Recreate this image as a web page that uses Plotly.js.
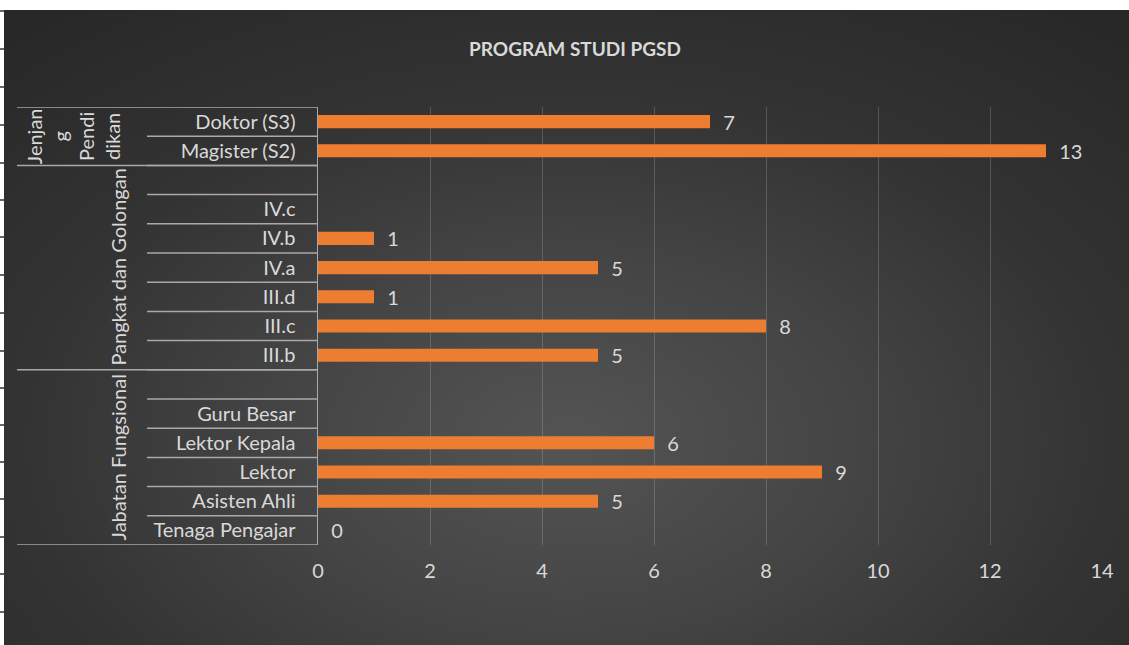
<!DOCTYPE html>
<html>
<head>
<meta charset="utf-8">
<script src="https://cdn.plot.ly/plotly-3.0.1.min.js"></script>
<style>
  html, body { margin:0; padding:0; background:#ffffff; }
  #bg { position:absolute; left:4px; top:10px; width:1125px; height:635px;
        background: radial-gradient(ellipse 75% 85% at 50% 68%, #545454 0%, #444444 35%, #333333 65%, #282828 100%); }
  #chart { position:absolute; left:0; top:0; width:1129px; height:645px; }
</style>
</head>
<body>
<div id="bg"></div>
<div id="chart"></div>
<script>
// ---- data (bottom to top) ----
const categories = ["Tenaga Pengajar", "Asisten Ahli", "Lektor", "Lektor Kepala", "Guru Besar", " ",
                    "III.b", "III.c", "III.d", "IV.a", "IV.b", "IV.c", "  ",
                    "Magister (S2)", "Doktor (S3)"];
const values = [0, 5, 9, 6, null, null,
                5, 8, 1, 5, 1, null, null,
                13, 7];
const groupNames = ["Jabatan Fungsional", "Pangkat dan Golongan", "Jenjan<br>g<br>Pendi<br>dikan"];
const groupStart = [0, 6, 13];
const groupEnd = [5, 12, 14];
const xTicks = [0, 2, 4, 6, 8, 10, 12, 14];
const chartTitle = "PROGRAM STUDI PGSD";

// ---- layout helpers (pixel geometry) ----
const L = 318, R = 1102, T = 107, B = 545, W = 1129, H = 645;
const px = v => (v - L) / (R - L);
const py = v => (B - v) / (B - T);
const lineCol = "#a9a9a9";
const txtCol = "#d9d9d9";
const fontFam = "Lato, 'Noto Sans', sans-serif";
const fs = 20;

const shapes = [];
// inner dividers at every category boundary
for (let i = 0; i < categories.length - 1; i++) {
  shapes.push({type:"line", xref:"paper", yref:"y", x0:px(147), x1:0, y0:i+0.5, y1:i+0.5,
               line:{color:lineCol, width:1.5}});
}
// full group boundaries
const fullB = [-0.5];
groupEnd.forEach(e => fullB.push(e + 0.5));
fullB.forEach(b => shapes.push({type:"line", xref:"paper", yref:"y", x0:px(17), x1:0, y0:b, y1:b,
               line:{color:lineCol, width:1.5}}));
// spreadsheet row-border marks on the left edge
const leftMarks = [11,49,87,125,163,200,237,275,313,351,388,425,462,499,537,574,612];
leftMarks.forEach(m => shapes.push({type:"line", xref:"paper", yref:"paper", x0:px(0), x1:px(4),
               y0:py(m), y1:py(m), line:{color:"#000000", width:1.2}}));

const annotations = [];
groupNames.forEach((g, i) => {
  const c = (groupStart[i] + groupEnd[i]) / 2;
  annotations.push({xref:"paper", yref:"y", x: i === 2 ? px(73) : px(118), y:c, text:g,
    showarrow:false, textangle:-90, xanchor:"center", yanchor:"middle",
    font:{family:fontFam, size:fs, color:txtCol}});
});

const trace = {
  type:"bar", orientation:"h", y:categories, x:values,
  marker:{color:"#ED7D31", line:{width:0}},
  text: values.map(v => v === null ? "" : "\u00a0\u00a0" + v),
  textposition:"outside", cliponaxis:false, constraintext:"none",
  textfont:{family:fontFam, size:fs, color:txtCol},
  hoverinfo:"none"
};

const layout = {
  width:W, height:H,
  margin:{l:L, r:W-R, t:T, b:H-B, pad:0},
  paper_bgcolor:"rgba(0,0,0,0)", plot_bgcolor:"rgba(0,0,0,0)",
  showlegend:false,
  bargap:0.55,
  title:{text:"<b>" + chartTitle + "</b>", x:575/W, xanchor:"center", y:1-49/H, yanchor:"middle",
         font:{family:fontFam, size:19, color:txtCol}},
  xaxis:{range:[0,14], tickvals:xTicks, ticktext:xTicks.map(String), showgrid:true,
         gridcolor:"rgba(255,255,255,0.17)", gridwidth:1, zeroline:false, showline:false,
         ticks:"", ticklabelstandoff:12, tickfont:{family:fontFam, size:fs, color:txtCol}, fixedrange:true},
  yaxis:{type:"category", categoryorder:"array", categoryarray:categories, range:[-0.5, categories.length-0.5],
         showgrid:false, zeroline:false, showline:true, linecolor:lineCol, linewidth:1.5,
         ticks:"", ticklabelstandoff:17, tickfont:{family:fontFam, size:fs, color:txtCol}, fixedrange:true},
  shapes:shapes, annotations:annotations
};

Plotly.newPlot("chart", [trace], layout, {displayModeBar:false, staticPlot:true});
</script>
</body>
</html>
